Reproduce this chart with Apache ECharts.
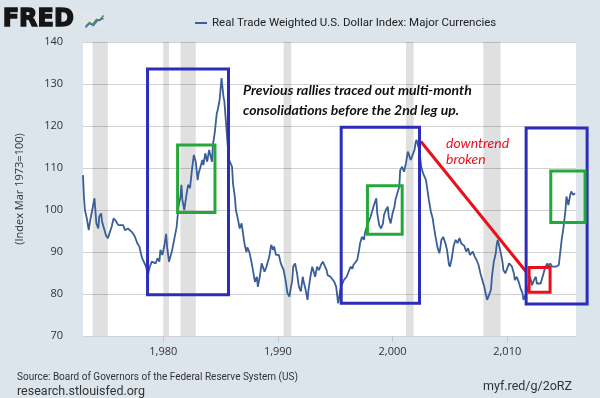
<!DOCTYPE html>
<html>
<head>
<meta charset="utf-8">
<script src="https://cdn.jsdelivr.net/npm/echarts@6/dist/echarts.min.js"></script>
<style>
  html, body { margin: 0; padding: 0; background: #dce4ec; }
  #chart { width: 600px; height: 398px; }
</style>
</head>
<body>
<div id="chart"></div>
<script>
// series name + data (monthly points, not every month)
const seriesName = 'Real Trade Weighted U.S. Dollar Index: Major Currencies'
const months = [
  '1973-01', '1973-02', '1973-03', '1973-04', '1973-05', '1973-07', '1973-08', '1973-10',
  '1974-01', '1974-03', '1974-05', '1974-06', '1974-08', '1974-09', '1974-11',
  '1975-01', '1975-03', '1975-05', '1975-07', '1975-09', '1975-11',
  '1976-01', '1976-02', '1976-04', '1976-07', '1976-09', '1976-12',
  '1977-02', '1977-04', '1977-07', '1977-08', '1977-10', '1977-12',
  '1978-02', '1978-03', '1978-05', '1978-07', '1978-09', '1978-10', '1978-11',
  '1979-01', '1979-03', '1979-05', '1979-07', '1979-09', '1979-10', '1979-12',
  '1980-02', '1980-04', '1980-05', '1980-07', '1980-09', '1980-10',
  '1981-01', '1981-03', '1981-05', '1981-07', '1981-08', '1981-09', '1981-11',
  '1982-01', '1982-03', '1982-05', '1982-07', '1982-09', '1982-11',
  '1983-01', '1983-02', '1983-04', '1983-06', '1983-07', '1983-09', '1983-11',
  '1984-01', '1984-03', '1984-04', '1984-05', '1984-07', '1984-09', '1984-10', '1984-12',
  '1985-02', '1985-04', '1985-05', '1985-07', '1985-09', '1985-10',
  '1986-01', '1986-02', '1986-04', '1986-05', '1986-07', '1986-09', '1986-11',
  '1987-01', '1987-02', '1987-04', '1987-05', '1987-07', '1987-09', '1987-11',
  '1988-01', '1988-03', '1988-04', '1988-06', '1988-08', '1988-11',
  '1989-01', '1989-04', '1989-06', '1989-08', '1989-09', '1989-11',
  '1990-01', '1990-02', '1990-04', '1990-07', '1990-09', '1990-11',
  '1991-01', '1991-02', '1991-04', '1991-05', '1991-07', '1991-09', '1991-11',
  '1992-01', '1992-03', '1992-04', '1992-06', '1992-08', '1992-09', '1992-11',
  '1993-01', '1993-03', '1993-04', '1993-06', '1993-08', '1993-10', '1993-12',
  '1994-02', '1994-04', '1994-05', '1994-07', '1994-08', '1994-10', '1994-12',
  '1995-02', '1995-04', '1995-05', '1995-07', '1995-10',
  '1996-01', '1996-03', '1996-05', '1996-07', '1996-08', '1996-10', '1996-12',
  '1997-02', '1997-03', '1997-05', '1997-07', '1997-08', '1997-10', '1997-12',
  '1998-02', '1998-04', '1998-05', '1998-08', '1998-09', '1998-11',
  '1999-01', '1999-03', '1999-04', '1999-06', '1999-08', '1999-09', '1999-11',
  '2000-01', '2000-03', '2000-04', '2000-06', '2000-08', '2000-09', '2000-11',
  '2001-01', '2001-03', '2001-05', '2001-07', '2001-08', '2001-10', '2001-12',
  '2002-01', '2002-02', '2002-05', '2002-07', '2002-09', '2002-10', '2002-12',
  '2003-01', '2003-03', '2003-05', '2003-07', '2003-08', '2003-10', '2003-12',
  '2004-02', '2004-03', '2004-04', '2004-06', '2004-08', '2004-10', '2004-12',
  '2005-01', '2005-03', '2005-05', '2005-07', '2005-09', '2005-11',
  '2006-01', '2006-02', '2006-04', '2006-06', '2006-08', '2006-10',
  '2007-01', '2007-03', '2007-05', '2007-07', '2007-09', '2007-11',
  '2008-01', '2008-02', '2008-04', '2008-06', '2008-08', '2008-09', '2008-11',
  '2009-01', '2009-02', '2009-03', '2009-06', '2009-08', '2009-09', '2009-11',
  '2010-01', '2010-03', '2010-05', '2010-06', '2010-08', '2010-09', '2010-11',
  '2011-01', '2011-03', '2011-05', '2011-06', '2011-08', '2011-09', '2011-11',
  '2012-01', '2012-03', '2012-05', '2012-07', '2012-08', '2012-10', '2012-12',
  '2013-02', '2013-03', '2013-05', '2013-07', '2013-08', '2013-10', '2013-12',
  '2014-02', '2014-04', '2014-05', '2014-07', '2014-08', '2014-10', '2014-12',
  '2015-02', '2015-03', '2015-05', '2015-07', '2015-08', '2015-10', '2015-12'
]
const values = [
  108.3, 103, 100, 100, 98, 95.2, 96.8, 96.4,
  102.8, 96.8, 95.6, 98.4, 99.2, 97.2, 95.6,
  94, 93.3, 93.3, 96, 98, 97.5,
  97.6, 96.4, 96.8, 96.4, 95.2, 95.6,
  95.2, 94.8, 93.8, 93.5, 92, 91.3,
  89.3, 88.5, 88.9, 86.5, 84.5, 85.7, 86.5,
  87.7, 88.1, 87.3, 88.5, 87.7, 90.5, 89.3,
  91.3, 94.3, 91.3, 87.7, 87.5, 90.1,
  93.6, 96, 100.8, 103.2, 106, 102.4, 100,
  103.2, 106, 105.2, 109.5, 113.1, 111.5,
  107.1, 108.7, 110.3, 111.9, 110.7, 113.5, 111.5,
  114.3, 113.9, 111.5, 115.5, 118.6, 123, 123.8, 126.2,
  131.4, 127, 125.8, 119.8, 113.9, 111.9,
  110.3, 106.3, 103, 100, 98, 95.6, 96.8,
  93.6, 92, 90, 91.1, 90.1, 88, 85.5,
  82.9, 84.1, 81.7, 84.1, 87.3, 85.3,
  86.5, 88.9, 91.7, 90.5, 91.3, 89.3,
  88.9, 89.3, 87.3, 85.7, 83.3, 80.2,
  79.4, 79.8, 83.3, 86.5, 87.3, 84.9, 81.7,
  80.6, 84.1, 82.9, 81, 78.6, 81, 84.1,
  86.5, 84.9, 84.1, 86.5, 85.7, 86.9, 87.7,
  87.3, 85.7, 84.5, 84.9, 84.1, 83.7, 82.9,
  81.7, 77.8, 79, 81.7, 83.3,
  84.1, 85.3, 86.5, 86, 86.9, 87.3, 88.1,
  90.5, 92.1, 93.6, 92.9, 94.4, 96, 97.2,
  98.4, 98.8, 100.8, 102.8, 99.2, 96.4,
  95.6, 96.8, 98.8, 100, 100.8, 98.4, 96.8,
  99.2, 100.8, 102.4, 104, 105.5, 109.5, 110.3,
  109.1, 111.1, 113.9, 114.3, 111.9, 113.1, 114.3,
  115.9, 116.7, 114.3, 110.3, 108.7, 109.1, 107.1,
  105.5, 102.4, 99.7, 98, 96.4, 93.6, 91.1,
  89.7, 91, 92.8, 93.6, 92.3, 90.5, 87,
  86.5, 88.5, 91.5, 92.9, 92.1, 93.3,
  92, 91.7, 91.5, 90.1, 90.9, 89.3,
  90.1, 88.9, 88.1, 86.9, 84.9, 83.3,
  81.7, 80.6, 78.6, 79.8, 81, 84.1, 87.7,
  89.7, 91.7, 92.9, 90.1, 87.7, 85.7, 84.9,
  86.1, 87.3, 87.7, 86.5, 84.9, 83.3, 84.1,
  82.9, 81.3, 80.2, 78.6, 78.2, 80.2, 81.7,
  84.1, 82.1, 83.3, 84.1, 82.5, 82.1, 82.5,
  82.9, 84.9, 86.5, 87.3, 86.5, 87.3, 86.5,
  86.9, 86.5, 86.5, 86.9, 88.9, 92.9, 96,
  100, 103.2, 101.2, 103.6, 104.4, 103.6, 104
]
// recession shading (start month, end month)
const recessions = [
  ['1973-11', '1975-03'], ['1980-01', '1980-07'], ['1981-07', '1982-11'],
  ['1990-07', '1991-03'], ['2001-03', '2001-11'], ['2007-12', '2009-06']
]
const xTicks = [1980, 1990, 2000, 2010]
// hand-drawn annotations in data units: [yearFrom, valueTop, yearTo, valueBottom]
const blueBoxes = [[1978.63, 133.6, 1985.69, 79.8], [1995.52, 119.7, 2002.35, 77.8], [2011.65, 119.5, 2016.97, 77.6]]
const greenBoxes = [[1981.25, 115.5, 1984.51, 99.4], [1997.81, 105.8, 2000.84, 94.2], [2013.8, 109.3, 2016.79, 97.0]]
const redBoxes = [[2011.91, 86.3, 2013.74, 80.4]]
const trendLine = [[2002.47, 116.3], [2011.65, 85.3]]

function toYear(m) {
  const p = m.split('-')
  return +p[0] + (p[1] - 1) / 12
}

function boxSeries(data, color) {
  return {
    type: 'custom',
    data: data,
    clip: false,
    silent: true,
    z: 5,
    encode: { x: [0, 2], y: [1, 3] },
    renderItem: function (params, api) {
      const a = api.coord([api.value(0), api.value(1)])
      const b = api.coord([api.value(2), api.value(3)])
      return {
        type: 'rect',
        shape: { x: a[0], y: a[1], width: b[0] - a[0], height: b[1] - a[1] },
        style: { fill: 'none', stroke: color, lineWidth: 3 }
      }
    }
  }
}

const chart = echarts.init(document.getElementById('chart'))
const option = {
  animation: false,
  backgroundColor: '#dce4ec',
  textStyle: { fontFamily: 'Open Sans' },
  legend: {
    data: [seriesName],
    left: 190,
    top: 12,
    icon: 'rect',
    itemWidth: 12,
    itemHeight: 2,
    textStyle: { fontSize: 11.5, color: '#222', fontFamily: 'Roboto' }
  },
  grid: { left: 83, right: 24, top: 42, bottom: 62, show: true, backgroundColor: '#fff', borderWidth: 0 },
  xAxis: {
    type: 'value',
    min: 1973,
    max: 2016,
    splitLine: { show: false },
    axisLine: { show: false },
    axisTick: { show: true, customValues: xTicks, length: 6, lineStyle: { color: '#b9c8d8' } },
    axisLabel: { customValues: xTicks, color: '#333', fontSize: 11, margin: 10 }
  },
  yAxis: {
    type: 'value',
    min: 70,
    max: 140,
    interval: 10,
    name: '(Index Mar 1973=100)',
    nameLocation: 'middle',
    nameRotate: 90,
    nameGap: 58,
    nameTextStyle: { color: '#333', fontSize: 11 },
    axisLine: { show: false },
    axisTick: { show: false },
    axisLabel: { color: '#333', fontSize: 11, margin: 20 },
    splitLine: { lineStyle: { color: '#d2d2d2' } }
  },
  series: [
    {
      name: seriesName,
      type: 'line',
      data: months.map((m, i) => [toYear(m), values[i]]),
      symbol: 'none',
      z: 3,
      lineStyle: { color: '#3a5e97', width: 1.8 },
      itemStyle: { color: '#3a5e97' },
      markArea: {
        silent: true,
        itemStyle: { color: 'rgba(0,0,0,0.12)' },
        data: recessions.map(r => [{ xAxis: toYear(r[0]) }, { xAxis: toYear(r[1]) }])
      }
    },
    {
      name: 'trend',
      type: 'line',
      data: trendLine,
      symbol: 'none',
      z: 4,
      silent: true,
      lineStyle: { color: '#e8101c', width: 3 }
    },
    boxSeries(blueBoxes, '#2d2dbb'),
    boxSeries(greenBoxes, '#25a83a'),
    boxSeries(redBoxes, '#e8101c')
  ],
  graphic: [
    // FRED logo
    { type: 'text', left: 2, top: 7, style: { text: 'FRED', font: 'bold 24px "DejaVu Sans"', fill: '#151515', stroke: '#151515', lineWidth: 1.4 } },
    { type: 'rect', left: 82, top: 11, shape: { width: 20, height: 16 }, style: { fill: '#e2e6ea' } },
    { type: 'polyline', left: 83, top: 13, shape: { points: [[0, 11], [4, 7], [7, 9], [11, 4], [14, 5], [18, 0]] }, style: { stroke: '#3e9a47', lineWidth: 1.5, fill: 'none' } },
    { type: 'polyline', left: 83, top: 16, shape: { points: [[0, 10], [4, 6], [8, 8], [12, 3], [18, 1]] }, style: { stroke: '#4572a7', lineWidth: 1.5, fill: 'none' } },
    {
      type: 'text', left: 243, top: 80, z: 10,
      style: { text: 'Previous rallies traced out multi-month\nconsolidations before the 2nd leg up.', font: 'italic bold 14px Lato', fill: '#111', lineHeight: 20 }
    },
    {
      type: 'text', left: 446, top: 135, z: 10,
      style: { text: 'downtrend\nbroken', font: 'italic 14px Lato', fill: '#e8101c', lineHeight: 16 }
    },
    { type: 'text', left: 17, top: 372, style: { text: 'Source: Board of Governors of the Federal Reserve System (US)', font: '10px Roboto', fill: '#333' } },
    { type: 'text', left: 17, top: 385, style: { text: 'research.stlouisfed.org', font: '12.5px Roboto', fill: '#333' } },
    { type: 'text', right: 28, top: 380, style: { text: 'myf.red/g/2oRZ', font: '12.5px Roboto', fill: '#333' } }
  ]
}
chart.setOption(option)
</script>
</body>
</html>
